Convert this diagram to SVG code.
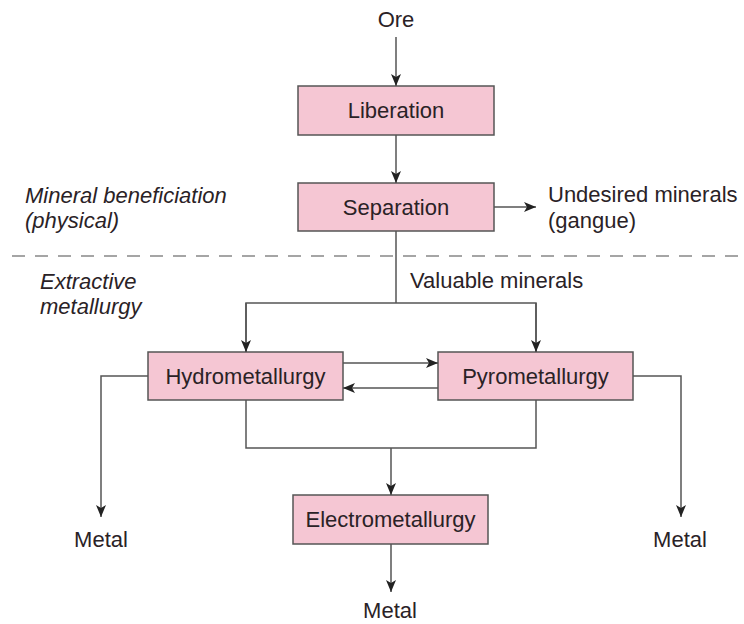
<svg xmlns="http://www.w3.org/2000/svg" width="744" height="624" viewBox="0 0 744 624">
<style>
.box{fill:#f5c6d3;stroke:#555;stroke-width:1.5}
.t{font-family:"Liberation Sans",Arial,sans-serif;font-size:22px;fill:#2a2226}
.c{text-anchor:middle}
.i{font-style:italic}
.ln{fill:none;stroke:#555;stroke-width:1.5}
.dash{stroke:#888;stroke-width:1.5;stroke-dasharray:13 10}
</style>
<defs>
<marker id="ah" markerUnits="userSpaceOnUse" viewBox="0 0 12 10" refX="12" refY="5" markerWidth="12" markerHeight="10" orient="auto">
<path d="M0,0 L12,5 L0,10 L3,5 z" fill="#222"/>
</marker>
</defs>
<rect width="744" height="624" fill="#fff"/>
<g id="labels">
<text class="t c" x="396" y="27">Ore</text>
<text class="t i" x="25" y="203">Mineral beneficiation</text>
<text class="t i" x="25" y="228">(physical)</text>
<text class="t i" x="40" y="289">Extractive</text>
<text class="t i" x="40" y="314">metallurgy</text>
<text class="t" x="548" y="202">Undesired minerals</text>
<text class="t" x="548" y="228">(gangue)</text>
<text class="t" x="410" y="288">Valuable minerals</text>
<text class="t c" x="101" y="547">Metal</text>
<text class="t c" x="680" y="547">Metal</text>
<text class="t c" x="390" y="618">Metal</text>
</g>
<line class="dash" x1="12" y1="256" x2="744" y2="256"/>
<g id="liberation">
<rect class="box" x="298" y="86" width="196" height="49"/>
<text class="t c" x="396" y="118">Liberation</text>
</g>
<g id="separation">
<rect class="box" x="298" y="183" width="196" height="48"/>
<text class="t c" x="396" y="215">Separation</text>
</g>
<g id="hydrometallurgy">
<rect class="box" x="148" y="352" width="195" height="48"/>
<text class="t c" x="245.5" y="384">Hydrometallurgy</text>
</g>
<g id="pyrometallurgy">
<rect class="box" x="438" y="352" width="195" height="48"/>
<text class="t c" x="535.5" y="384">Pyrometallurgy</text>
</g>
<g id="electrometallurgy">
<rect class="box" x="293" y="495" width="195" height="49"/>
<text class="t c" x="390.5" y="527">Electrometallurgy</text>
</g>
<g id="connectors">
<line class="ln" x1="396" y1="37" x2="396" y2="86" marker-end="url(#ah)"/>
<line class="ln" x1="396" y1="135" x2="396" y2="183" marker-end="url(#ah)"/>
<line class="ln" x1="494" y1="207" x2="536" y2="207" marker-end="url(#ah)"/>
<polyline class="ln" points="396,231 396,303"/>
<polyline class="ln" points="246,352 246,303 536,303 536,352"/>
<line class="ln" x1="246" y1="303" x2="246" y2="352" marker-end="url(#ah)"/>
<line class="ln" x1="536" y1="303" x2="536" y2="352" marker-end="url(#ah)"/>
<line class="ln" x1="343" y1="363" x2="438" y2="363" marker-end="url(#ah)"/>
<line class="ln" x1="438" y1="388" x2="343" y2="388" marker-end="url(#ah)"/>
<polyline class="ln" points="148,376 101,376 101,517" marker-end="url(#ah)"/>
<polyline class="ln" points="633,376 681,376 681,517" marker-end="url(#ah)"/>
<polyline class="ln" points="246,400 246,448 536,448 536,400"/>
<line class="ln" x1="391" y1="448" x2="391" y2="495" marker-end="url(#ah)"/>
<line class="ln" x1="391" y1="544" x2="391" y2="592" marker-end="url(#ah)"/>
</g>
</svg>
